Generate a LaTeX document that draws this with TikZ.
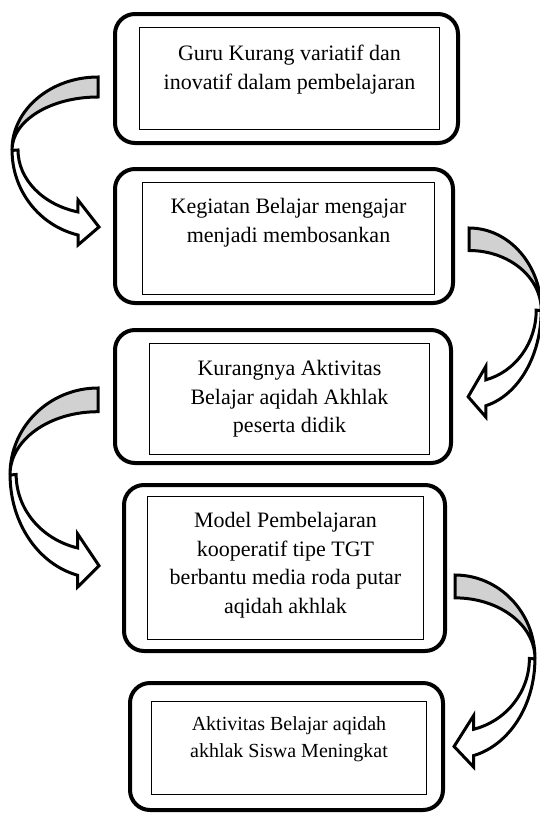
\documentclass[tikz,border=0pt]{standalone}
\usepackage{fontspec}
\setmainfont{Liberation Serif}
\usetikzlibrary{positioning,calc}

\begin{document}
\begin{tikzpicture}[x=1pt,y=1pt,
  outerbox/.style={draw,line width=4pt,rounded corners=20pt},
  innerbox/.style={draw,line width=0.9pt},
  boxtext/.style={align=center,inner sep=0pt,font=\fontsize{22}{28.5}\selectfont},
  arrback/.style={draw,line width=3pt,fill=black!18},
  arrfront/.style={draw,line width=3pt,fill=white},
  bentarrow/.pic={
    \draw[arrback] (0,0) arc[start angle=90,end angle=180,x radius=86pt,y radius=73pt]
      arc[start angle=180,end angle=90,x radius=86pt,y radius=53pt] -- cycle;
    \draw[arrfront] (-80,-73) arc[start angle=180,end angle=255.5,x radius=80pt,y radius=64pt]
      -- (-20,-123) -- (1,-150) -- (-20,-168) -- (-20,-158)
      arc[start angle=256.5,end angle=180,x radius=86pt,y radius=87pt] -- cycle;
  }]
  \useasboundingbox (0,0) rectangle (539,-814);
  % boxes
  \node[outerbox,minimum width=343,minimum height=129] (b1) at (286.5,-78.5) {};
  \node[innerbox,minimum width=300,minimum height=102] (i1) at (289.5,-78.5) {};
  \node[boxtext,below=18pt of i1.north] (t1) {Guru Kurang variatif dan\\inovatif dalam pembelajaran};

  \node[outerbox,minimum width=338,minimum height=134] (b2) at (284,-236) {};
  \node[innerbox,minimum width=292,minimum height=112] (i2) at (288.5,-238.5) {};
  \node[boxtext,below=16pt of i2.north] (t2) {Kegiatan Belajar mengajar\\menjadi membosankan};

  \node[outerbox,minimum width=336,minimum height=133] (b3) at (283,-396.5) {};
  \node[innerbox,minimum width=280,minimum height=111] (i3) at (289.5,-399) {};
  \node[boxtext,below=17pt of i3.north] (t3) {Kurangnya Aktivitas\\Belajar aqidah Akhlak\\peserta didik};

  \node[outerbox,minimum width=321,minimum height=166] (b4) at (284.5,-568) {};
  \node[innerbox,minimum width=276,minimum height=143] (i4) at (285.5,-568) {};
  \node[boxtext,below=16pt of i4.north] (t4) {Model Pembelajaran\\kooperatif tipe TGT\\berbantu media roda putar\\aqidah akhlak};

  \node[outerbox,minimum width=313,minimum height=127] (b5) at (286.5,-746.5) {};
  \node[innerbox,minimum width=275,minimum height=93] (i5) at (289,-748) {};
  \node[boxtext,font=\fontsize{20}{27}\selectfont,below=15pt of i5.north] (t5) {Aktivitas Belajar aqidah\\akhlak Siswa Meningkat};

  % curved arrows
  \pic at ($(b1.west)+(-15,1.5)$) {bentarrow};
  \pic[xscale=-0.84,yscale=1.125] at ($(b2.east)+(14,8)$) {bentarrow};
  \pic[xscale=1.023,yscale=1.185] at ($(b3.west)+(-15,8.5)$) {bentarrow};
  \pic[xscale=-0.93,yscale=1.143] at ($(b4.east)+(8,-7)$) {bentarrow};
\end{tikzpicture}
\end{document}
